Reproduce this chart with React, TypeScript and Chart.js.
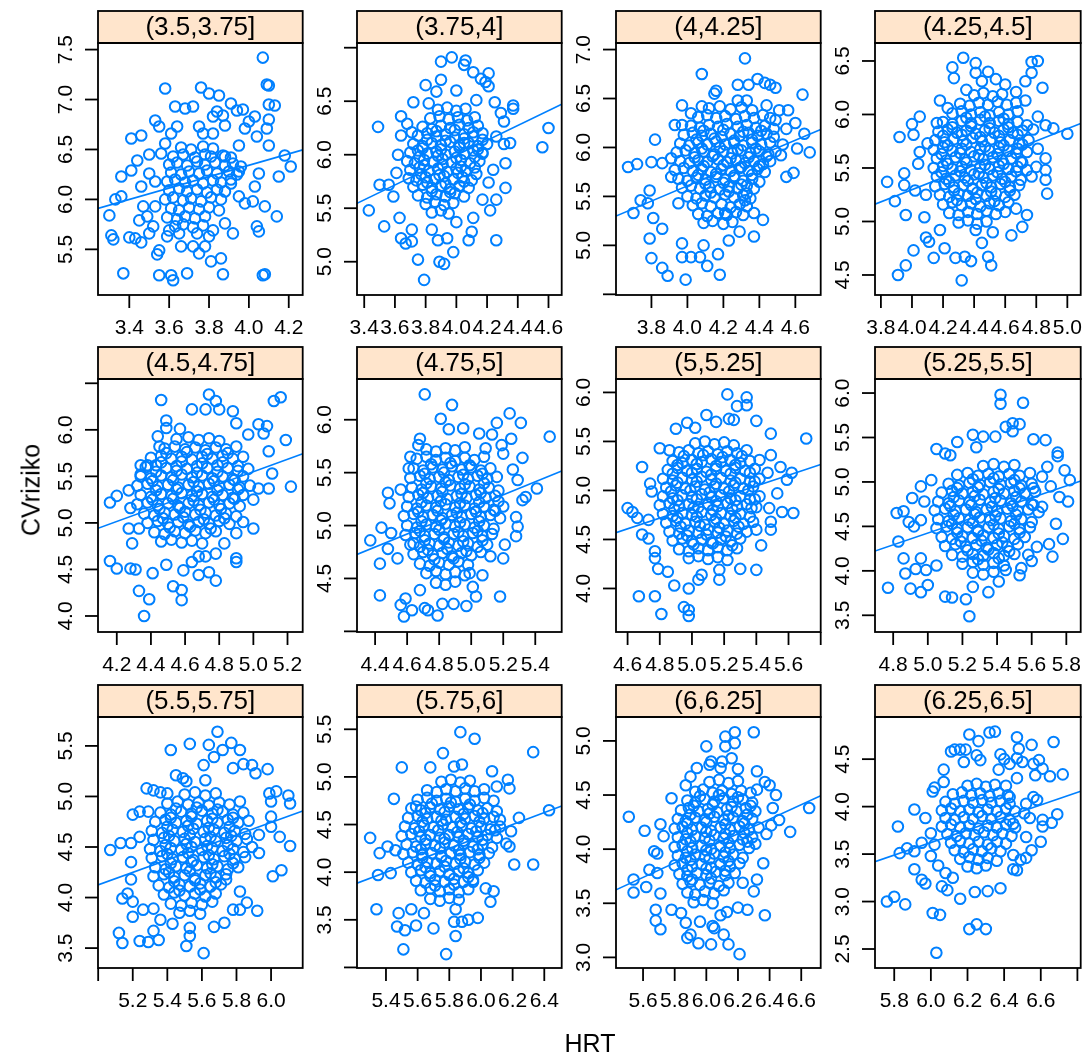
import React, { useEffect, useRef } from 'react';
import { Chart, registerables } from 'chart.js';

Chart.register(...registerables);

// strip labels (HRT shingles) and the panel order, left to right, top to bottom
const stripLabels = ['(3.5,3.75]', '(3.75,4]', '(4,4.25]', '(4.25,4.5]', '(4.5,4.75]', '(4.75,5]', '(5,5.25]', '(5.25,5.5]', '(5.5,5.75]', '(5.75,6]', '(6,6.25]', '(6.25,6.5]'];

// axis limits per panel (relation = "free")
const hrtLimits: [number, number][] = [[3.243, 4.27], [3.353, 4.686], [3.603, 4.741], [3.762, 5.086], [4.09, 5.289], [4.287, 5.565], [4.528, 5.8], [4.695, 5.883], [4.999, 6.183], [5.217, 6.51], [5.429, 6.723], [5.695, 6.818]];
const cvLimits: [number, number][] = [[5.043, 7.566], [4.689, 7.044], [4.493, 7.067], [4.313, 6.668], [3.828, 6.546], [3.994, 6.385], [3.556, 6.137], [3.312, 6.158], [3.303, 5.786], [2.994, 5.629], [2.902, 5.221], [2.3, 4.944]];

const hrtTicks = [[3.4, 3.6, 3.8, 4.0, 4.2], [3.4, 3.6, 3.8, 4.0, 4.2, 4.4, 4.6], [3.8, 4.0, 4.2, 4.4, 4.6], [3.8, 4.0, 4.2, 4.4, 4.6, 4.8, 5.0], [4.2, 4.4, 4.6, 4.8, 5.0, 5.2], [4.4, 4.6, 4.8, 5.0, 5.2, 5.4], [4.6, 4.8, 5.0, 5.2, 5.4, 5.6, 5.8], [4.8, 5.0, 5.2, 5.4, 5.6, 5.8], [5.0, 5.2, 5.4, 5.6, 5.8, 6.0], [5.4, 5.6, 5.8, 6.0, 6.2, 6.4], [5.6, 5.8, 6.0, 6.2, 6.4, 6.6], [5.8, 6.0, 6.2, 6.4, 6.6, 6.8]];
const hrtBare = [[], [], [], [], [], [], [5.8], [], [5.0], [], [], [6.8]];
const cvTicks = [[5.5, 6.0, 6.5, 7.0, 7.5], [5.0, 5.5, 6.0, 6.5, 7.0], [4.5, 5.0, 5.5, 6.0, 6.5, 7.0], [4.5, 5.0, 5.5, 6.0, 6.5], [4.0, 4.5, 5.0, 5.5, 6.0, 6.5], [4.0, 4.5, 5.0, 5.5, 6.0], [4.0, 4.5, 5.0, 5.5, 6.0], [3.5, 4.0, 4.5, 5.0, 5.5, 6.0], [3.5, 4.0, 4.5, 5.0, 5.5], [3.0, 3.5, 4.0, 4.5, 5.0, 5.5], [3.0, 3.5, 4.0, 4.5, 5.0], [2.5, 3.0, 3.5, 4.0, 4.5]];
const cvBare = [[], [7.0], [4.5], [], [6.5], [4.0], [], [], [], [3.0], [], []];

// fitted line (lmline) read at the left and right panel limits
const fitLeft = [5.91, 5.545, 5.299, 5.162, 4.942, 4.727, 4.569, 4.222, 4.125, 3.884, 3.624, 3.42];
const fitRight = [6.496, 6.472, 6.184, 5.915, 5.742, 5.516, 5.264, 5.011, 4.855, 4.694, 4.493, 4.163];

// points [HRT, CVriziko]
const cloud1: [number, number][] = [
  [4.07,7.42],[3.58,7.11],[3.76,7.12],[3.80,7.06],[3.85,7.04],[4.09,7.15],[4.10,7.14],[3.63,6.93],[3.68,6.91],[3.72,6.93],[3.91,6.96],[3.94,6.89],[3.97,6.90],[4.10,6.95],[4.13,6.94],[3.53,6.79],[3.55,6.73],[3.41,6.61],[3.46,6.64],[3.36,6.23],[3.41,6.29],[3.44,6.39],[3.33,6.00],[3.36,6.03],[3.30,5.84],[3.31,5.64],[3.32,5.60],[3.40,5.62],[3.43,5.61],[3.46,5.57],[3.37,5.26],[3.55,5.24],[3.54,5.45],[3.55,5.49],[3.61,5.24],[3.62,5.19],[3.69,5.26],[3.66,5.53],[3.72,5.53],[3.75,5.46],[3.78,5.53],[3.81,5.38],[3.86,5.41],[3.87,5.25],[3.88,5.76],[3.92,5.66],[4.04,5.73],[4.05,5.68],[4.07,5.24],[4.08,5.25],[4.14,5.83],[4.08,5.93],[4.15,6.23],[4.21,6.33],[4.18,6.44],[4.10,6.54],[4.09,6.71],[4.10,6.80],[4.03,6.83],[4.00,6.78],[3.98,6.71],[3.95,6.54],[4.04,6.63],[4.05,6.26],[4.03,6.13],[4.02,5.98],[3.98,5.96],[3.95,6.03],[3.91,6.16],[3.95,6.28],[3.88,6.43],[3.82,6.83],[3.84,6.88],[3.87,6.84],[3.88,6.74],[3.82,6.66],[3.77,6.66],[3.75,6.73],[3.64,6.73],[3.61,6.66],[3.58,6.56],[3.56,6.46],[3.50,6.45],[3.50,6.26],[3.53,6.18],[3.46,6.13],[3.47,5.93],[3.49,5.83],[3.45,5.79],[3.53,5.93],[3.52,5.73],[3.50,5.66],[3.59,5.63],[3.60,5.69],[3.65,5.66],[3.74,5.66],[3.80,5.63],[3.82,5.69],
  [3.66,6.52],[3.71,6.50],[3.77,6.53],[3.82,6.51],[3.62,6.43],[3.67,6.45],[3.73,6.42],[3.78,6.45],[3.81,6.43],[3.87,6.44],[3.91,6.42],[3.60,6.35],[3.64,6.37],[3.69,6.34],[3.74,6.38],[3.78,6.35],[3.83,6.37],[3.88,6.34],[3.92,6.36],[3.96,6.33],[3.61,6.27],[3.66,6.25],[3.70,6.28],[3.75,6.26],[3.79,6.29],[3.84,6.26],[3.90,6.28],[3.94,6.25],[3.59,6.18],[3.63,6.20],[3.68,6.17],[3.72,6.19],[3.77,6.16],[3.82,6.19],[3.86,6.17],[3.91,6.20],[3.60,6.09],[3.65,6.11],[3.69,6.08],[3.74,6.10],[3.79,6.07],[3.84,6.10],[3.88,6.08],[3.58,6.00],[3.62,6.02],[3.67,5.99],[3.71,6.01],[3.76,5.98],[3.81,6.02],[3.86,6.00],[3.61,5.91],[3.65,5.89],[3.70,5.92],[3.75,5.90],[3.80,5.92],[3.85,5.89],[3.59,5.82],[3.64,5.80],[3.68,5.83],[3.73,5.81],[3.78,5.83],[3.63,5.73],[3.67,5.75],[3.72,5.72],[3.77,5.74],
];
const cloud2: [number, number][] = [
  [3.97,6.91],[3.90,6.87],[4.06,6.88],[4.05,6.84],[4.11,6.77],[4.16,6.71],[4.21,6.76],[4.19,6.68],[4.21,6.64],[3.80,6.65],[3.90,6.70],[3.87,6.59],[4.00,6.60],[3.72,6.49],[3.82,6.48],[3.49,6.26],[3.64,6.36],[3.68,6.29],[3.71,6.21],[3.64,6.18],[3.62,6.00],[3.61,5.83],[3.50,5.72],[3.56,5.72],[3.59,5.61],[3.43,5.48],[3.53,5.33],[3.63,5.41],[3.64,5.22],[3.67,5.17],[3.71,5.19],[3.71,5.30],[3.75,5.02],[3.79,4.83],[3.89,5.00],[3.92,4.98],[3.98,5.09],[3.94,5.22],[3.88,5.20],[3.84,5.30],[4.00,5.37],[4.08,5.20],[4.10,5.28],[4.11,5.41],[4.17,5.58],[4.22,5.48],[4.26,5.58],[4.26,5.20],[4.32,5.69],[4.32,5.92],[4.31,6.10],[4.35,6.11],[4.31,6.31],[4.29,6.39],[4.37,6.43],[4.37,6.46],[4.56,6.07],[4.60,6.25],[4.24,5.86],[4.21,5.74],[4.17,6.01],[4.26,6.17],[4.25,6.49],[4.13,6.51],[4.05,6.11],
  [3.88,6.42],[3.94,6.44],[4.00,6.41],[4.06,6.43],[3.83,6.34],[3.89,6.36],[3.95,6.33],[4.01,6.35],[4.07,6.32],[4.12,6.35],[3.78,6.26],[3.84,6.24],[3.90,6.27],[3.96,6.25],[4.02,6.28],[4.08,6.25],[4.14,6.27],[3.75,6.18],[3.81,6.20],[3.87,6.17],[3.93,6.19],[3.99,6.16],[4.05,6.19],[4.11,6.17],[4.17,6.20],[3.72,6.10],[3.78,6.08],[3.84,6.11],[3.90,6.09],[3.96,6.12],[4.02,6.09],[4.08,6.11],[4.14,6.08],[4.20,6.10],[3.70,6.02],[3.75,6.04],[3.81,6.01],[3.87,6.03],[3.93,6.00],[3.99,6.03],[4.05,6.01],[4.11,6.04],[4.17,6.02],[3.68,5.94],[3.73,5.92],[3.79,5.95],[3.85,5.93],[3.91,5.96],[3.97,5.93],[4.03,5.95],[4.09,5.92],[4.15,5.94],[3.70,5.86],[3.76,5.88],[3.82,5.85],[3.88,5.87],[3.94,5.84],[4.00,5.87],[4.06,5.85],[4.12,5.88],[3.69,5.78],[3.74,5.76],[3.80,5.79],[3.86,5.77],[3.92,5.80],[3.98,5.77],[4.04,5.79],[4.10,5.76],[3.72,5.70],[3.78,5.72],[3.84,5.69],[3.90,5.71],[3.96,5.68],[4.02,5.71],[4.08,5.69],[3.75,5.62],[3.81,5.60],[3.87,5.63],[3.93,5.61],[3.99,5.64],[4.05,5.61],[3.80,5.54],[3.86,5.56],[3.92,5.53],[3.98,5.55],[3.84,5.46],[3.90,5.48],[3.95,5.45],
  [3.87,6.22],[3.99,6.23],[4.11,6.21],[3.81,6.14],[3.93,6.13],[4.05,6.15],[4.17,6.14],[3.78,6.06],[3.90,6.05],[4.02,6.07],[4.14,6.05],[3.76,5.98],[3.88,5.99],[4.00,5.97],[4.12,5.98],[3.79,5.90],[3.91,5.91],[4.03,5.89],[3.77,5.82],[3.89,5.81],[4.01,5.83],[4.13,5.82],[3.81,5.74],[3.93,5.73],[4.05,5.75],[3.84,5.66],[3.96,5.65],
];
const cloud3: [number, number][] = [
  [4.32,6.91],[4.08,6.75],[4.28,6.64],[4.34,6.64],[4.39,6.70],[4.43,6.66],[4.46,6.64],[4.49,6.61],[4.16,6.58],[4.64,6.54],[3.97,6.43],[3.93,6.23],[3.97,6.23],[3.82,6.08],[3.67,5.80],[3.72,5.83],[3.80,5.85],[3.86,5.84],[3.74,5.46],[3.70,5.33],[3.79,5.56],[3.78,5.43],[3.81,5.28],[3.86,5.17],[3.79,5.07],[3.80,4.87],[3.86,4.77],[3.89,4.69],[3.99,4.65],[3.97,4.88],[4.02,4.88],[4.07,4.88],[4.11,4.79],[4.17,4.91],[4.18,4.70],[4.23,5.05],[4.29,5.14],[4.37,5.09],[4.42,5.26],[4.37,5.33],[4.55,5.70],[4.59,5.74],[4.52,5.92],[4.53,6.03],[4.61,5.99],[4.68,5.95],[4.65,6.14],[4.60,6.25],[4.56,6.38],[4.51,6.38],[4.44,6.43],[4.49,6.28],[4.55,6.19],[4.33,6.48],[4.28,6.48],[4.15,6.55],[4.08,6.42],[4.02,6.35],[3.91,5.89],[3.91,5.70],[3.95,5.43],[3.97,5.02],[4.09,5.00],[4.21,5.33],[4.32,5.46],
  [4.12,6.40],[4.18,6.42],[4.24,6.39],[4.30,6.41],[4.36,6.38],[4.06,6.31],[4.11,6.33],[4.16,6.30],[4.21,6.32],[4.27,6.29],[4.32,6.32],[4.37,6.30],[4.42,6.33],[4.46,6.30],[4.02,6.22],[4.07,6.20],[4.12,6.23],[4.17,6.21],[4.22,6.24],[4.28,6.21],[4.33,6.23],[4.38,6.20],[4.43,6.22],[4.48,6.19],[3.98,6.13],[4.03,6.15],[4.08,6.12],[4.13,6.14],[4.19,6.11],[4.24,6.14],[4.29,6.12],[4.34,6.15],[4.39,6.12],[4.44,6.14],[4.48,6.11],[3.96,6.04],[4.01,6.02],[4.06,6.05],[4.11,6.03],[4.16,6.06],[4.21,6.03],[4.26,6.05],[4.31,6.02],[4.36,6.05],[4.41,6.03],[4.46,6.05],[3.94,5.95],[3.99,5.97],[4.04,5.94],[4.09,5.96],[4.15,5.93],[4.20,5.96],[4.25,5.94],[4.30,5.97],[4.35,5.94],[4.40,5.96],[4.45,5.93],[4.49,5.96],[3.96,5.86],[4.01,5.84],[4.06,5.87],[4.11,5.85],[4.17,5.88],[4.22,5.85],[4.27,5.87],[4.32,5.84],[4.37,5.86],[4.42,5.83],[4.46,5.86],[3.93,5.77],[3.98,5.79],[4.03,5.76],[4.08,5.78],[4.13,5.75],[4.19,5.78],[4.24,5.76],[4.29,5.79],[4.34,5.76],[4.39,5.78],[4.43,5.75],[3.95,5.68],[4.00,5.66],[4.05,5.69],[4.10,5.67],[4.16,5.70],[4.21,5.67],[4.26,5.69],[4.31,5.66],[4.36,5.68],[4.40,5.65],[3.97,5.59],[4.02,5.61],[4.07,5.58],[4.12,5.60],[4.18,5.57],[4.23,5.60],[4.28,5.58],[4.33,5.61],[4.37,5.58],[4.00,5.50],[4.05,5.48],[4.10,5.51],[4.15,5.49],[4.21,5.52],[4.26,5.49],[4.31,5.51],[4.35,5.48],[4.03,5.41],[4.08,5.43],[4.13,5.40],[4.19,5.42],[4.24,5.39],[4.29,5.42],[4.33,5.40],[4.06,5.32],[4.11,5.30],[4.17,5.33],[4.22,5.31],[4.27,5.34],[4.31,5.31],[4.09,5.23],[4.14,5.25],[4.20,5.22],[4.25,5.24],
  [4.09,6.17],[4.20,6.18],[4.31,6.16],[4.41,6.17],[4.05,6.08],[4.15,6.09],[4.26,6.07],[4.36,6.08],[4.08,5.99],[4.18,6.00],[4.28,5.98],[4.38,5.99],[4.04,5.90],[4.14,5.91],[4.24,5.89],[4.34,5.90],[4.44,5.91],[4.09,5.81],[4.20,5.82],[4.30,5.80],[4.40,5.81],[4.06,5.72],[4.16,5.73],[4.26,5.71],[4.36,5.72],[4.10,5.63],[4.20,5.64],[4.30,5.62],[4.13,5.54],[4.23,5.55],[4.33,5.53],
];
const cloud4: [number, number][] = [
  [4.33,6.53],[4.41,6.48],[4.26,6.44],[4.27,6.34],[4.49,6.40],[4.41,6.39],[4.54,6.33],[4.77,6.49],[4.81,6.50],[4.77,6.39],[4.73,6.31],[4.84,6.25],[4.35,6.23],[4.18,6.13],[4.23,6.06],[4.05,5.98],[4.00,5.91],[3.92,5.79],[4.01,5.81],[4.05,5.65],[4.04,5.54],[3.95,5.45],[3.95,5.34],[3.84,5.37],[3.89,5.19],[3.96,5.06],[4.02,5.29],[4.09,5.25],[4.09,4.85],[4.11,4.81],[4.14,4.66],[4.01,4.73],[3.96,4.59],[3.91,4.50],[4.21,4.75],[4.28,4.66],[4.32,4.45],[4.34,4.67],[4.38,4.63],[4.45,4.80],[4.49,4.67],[4.51,4.59],[4.52,4.90],[4.64,4.87],[4.71,4.95],[4.74,5.06],[4.77,5.42],[4.80,5.51],[4.87,5.26],[4.86,5.39],[4.86,5.48],[4.86,5.59],[4.81,5.68],[4.78,5.86],[4.81,5.98],[4.86,5.90],[4.91,5.87],[5.00,5.82],[4.73,6.13],[4.67,6.21],[4.60,6.28],[4.45,6.31],[4.16,5.92],[4.10,5.73],[4.08,5.04],[4.18,4.92],[4.41,4.92],[4.67,5.12],
  [4.40,6.18],[4.46,6.20],[4.52,6.17],[4.58,6.19],[4.31,6.10],[4.37,6.08],[4.43,6.11],[4.49,6.09],[4.55,6.12],[4.61,6.09],[4.67,6.11],[4.26,6.01],[4.32,6.03],[4.38,6.00],[4.44,6.02],[4.50,5.99],[4.56,6.02],[4.62,6.00],[4.68,6.03],[4.20,5.93],[4.26,5.91],[4.32,5.94],[4.38,5.92],[4.44,5.95],[4.50,5.92],[4.56,5.94],[4.62,5.91],[4.68,5.93],[4.74,5.90],[4.17,5.84],[4.23,5.86],[4.29,5.83],[4.35,5.85],[4.41,5.82],[4.47,5.85],[4.53,5.83],[4.59,5.86],[4.65,5.83],[4.71,5.85],[4.15,5.76],[4.21,5.74],[4.27,5.77],[4.33,5.75],[4.39,5.78],[4.45,5.75],[4.51,5.77],[4.57,5.74],[4.63,5.76],[4.69,5.73],[4.75,5.76],[4.14,5.67],[4.20,5.69],[4.26,5.66],[4.32,5.68],[4.38,5.65],[4.44,5.68],[4.50,5.66],[4.56,5.69],[4.62,5.66],[4.68,5.68],[4.74,5.65],[4.16,5.59],[4.22,5.57],[4.28,5.60],[4.34,5.58],[4.40,5.61],[4.46,5.58],[4.52,5.60],[4.58,5.57],[4.64,5.59],[4.70,5.56],[4.14,5.50],[4.20,5.52],[4.26,5.49],[4.32,5.51],[4.38,5.48],[4.44,5.51],[4.50,5.49],[4.56,5.52],[4.62,5.49],[4.68,5.51],[4.74,5.48],[4.16,5.42],[4.22,5.40],[4.28,5.43],[4.34,5.41],[4.40,5.44],[4.46,5.41],[4.52,5.43],[4.58,5.40],[4.64,5.42],[4.70,5.39],[4.15,5.33],[4.21,5.35],[4.27,5.32],[4.33,5.34],[4.39,5.31],[4.45,5.34],[4.51,5.32],[4.57,5.35],[4.63,5.32],[4.69,5.34],[4.18,5.25],[4.24,5.23],[4.30,5.26],[4.36,5.24],[4.42,5.27],[4.48,5.24],[4.54,5.26],[4.60,5.23],[4.66,5.25],[4.20,5.16],[4.26,5.18],[4.32,5.15],[4.38,5.17],[4.44,5.14],[4.50,5.17],[4.56,5.15],[4.62,5.18],[4.24,5.08],[4.30,5.06],[4.36,5.09],[4.42,5.07],[4.48,5.10],[4.54,5.07],[4.60,5.09],[4.30,4.99],[4.36,5.01],[4.42,4.98],[4.48,5.00],
  [4.35,5.97],[4.47,5.98],[4.59,5.96],[4.26,5.88],[4.38,5.89],[4.50,5.87],[4.62,5.88],[4.20,5.80],[4.32,5.81],[4.44,5.79],[4.56,5.80],[4.68,5.81],[4.23,5.71],[4.35,5.72],[4.47,5.70],[4.59,5.71],[4.71,5.72],[4.19,5.63],[4.31,5.64],[4.43,5.62],[4.55,5.63],[4.67,5.64],[4.23,5.54],[4.35,5.55],[4.47,5.53],[4.59,5.54],[4.71,5.55],[4.19,5.46],[4.31,5.47],[4.43,5.45],[4.55,5.46],[4.67,5.47],[4.24,5.37],[4.36,5.38],[4.48,5.36],[4.60,5.37],[4.27,5.29],[4.39,5.30],[4.51,5.28],[4.63,5.29],[4.29,5.20],[4.41,5.21],[4.53,5.19],
];
const cloud5: [number, number][] = [
  [4.74,6.38],[4.78,6.31],[4.46,6.32],[5.12,6.31],[5.16,6.35],[4.64,6.22],[4.72,6.22],[4.80,6.22],[4.88,6.20],[4.49,6.10],[4.90,6.07],[5.03,6.06],[5.08,6.04],[4.97,5.95],[5.06,5.96],[5.19,5.89],[5.09,5.77],[5.11,5.53],[5.22,5.39],[5.03,5.37],[5.09,5.37],[5.00,5.25],[5.00,4.94],[4.94,5.01],[4.90,4.89],[4.90,4.62],[4.90,4.58],[4.78,4.67],[4.78,4.38],[4.74,4.47],[4.68,4.44],[4.68,4.64],[4.64,4.58],[4.59,4.49],[4.58,4.28],[4.58,4.17],[4.53,4.32],[4.49,4.55],[4.41,4.46],[4.39,4.18],[4.33,4.27],[4.36,4.00],[4.31,4.50],[4.28,4.51],[4.20,4.51],[4.16,4.59],[4.29,4.78],[4.27,4.94],[4.33,4.94],[4.28,5.16],[4.16,5.22],[4.20,5.29],[4.27,5.35],[4.34,5.62],[4.38,5.62],[4.34,5.52],[4.44,5.93],[4.49,6.02],[4.57,6.01],[4.45,5.82],[4.72,4.64],[4.83,4.78],
  [4.55,5.90],[4.62,5.92],[4.68,5.89],[4.74,5.91],[4.80,5.88],[4.48,5.80],[4.54,5.82],[4.60,5.79],[4.66,5.81],[4.72,5.78],[4.78,5.81],[4.84,5.79],[4.90,5.82],[4.40,5.70],[4.46,5.72],[4.52,5.69],[4.58,5.71],[4.64,5.68],[4.70,5.71],[4.76,5.69],[4.82,5.72],[4.88,5.69],[4.94,5.71],[4.37,5.60],[4.43,5.62],[4.49,5.59],[4.55,5.61],[4.61,5.58],[4.67,5.61],[4.73,5.59],[4.79,5.62],[4.85,5.59],[4.91,5.61],[4.97,5.58],[4.34,5.50],[4.40,5.48],[4.46,5.51],[4.52,5.49],[4.58,5.52],[4.64,5.49],[4.70,5.51],[4.76,5.48],[4.82,5.50],[4.88,5.47],[4.94,5.50],[4.32,5.40],[4.38,5.42],[4.44,5.39],[4.50,5.41],[4.56,5.38],[4.62,5.41],[4.68,5.39],[4.74,5.42],[4.80,5.39],[4.86,5.41],[4.92,5.38],[4.98,5.40],[4.34,5.30],[4.40,5.28],[4.46,5.31],[4.52,5.29],[4.58,5.32],[4.64,5.29],[4.70,5.31],[4.76,5.28],[4.82,5.30],[4.88,5.27],[4.94,5.30],[4.32,5.20],[4.38,5.22],[4.44,5.19],[4.50,5.21],[4.56,5.18],[4.62,5.21],[4.68,5.19],[4.74,5.22],[4.80,5.19],[4.86,5.21],[4.92,5.18],[4.36,5.10],[4.42,5.08],[4.48,5.11],[4.54,5.09],[4.60,5.12],[4.66,5.09],[4.72,5.11],[4.78,5.08],[4.84,5.10],[4.90,5.07],[4.38,5.00],[4.44,5.02],[4.50,4.99],[4.56,5.01],[4.62,4.98],[4.68,5.01],[4.74,4.99],[4.80,5.02],[4.86,4.99],[4.42,4.90],[4.48,4.88],[4.54,4.91],[4.60,4.89],[4.66,4.92],[4.72,4.89],[4.78,4.91],[4.46,4.80],[4.52,4.82],[4.58,4.79],[4.64,4.81],[4.70,4.78],
  [4.49,5.75],[4.61,5.76],[4.73,5.74],[4.85,5.75],[4.46,5.65],[4.58,5.66],[4.70,5.64],[4.82,5.65],[4.43,5.55],[4.55,5.56],[4.67,5.54],[4.79,5.55],[4.91,5.56],[4.41,5.45],[4.53,5.46],[4.65,5.44],[4.77,5.45],[4.89,5.46],[4.43,5.35],[4.55,5.36],[4.67,5.34],[4.79,5.35],[4.91,5.36],[4.41,5.25],[4.53,5.26],[4.65,5.24],[4.77,5.25],[4.89,5.26],[4.45,5.15],[4.57,5.16],[4.69,5.14],[4.81,5.15],[4.47,5.05],[4.59,5.06],[4.71,5.04],[4.83,5.05],[4.51,4.95],[4.63,4.96],[4.75,4.94],
];
const cloud6: [number, number][] = [
  [4.71,6.24],[4.88,6.14],[4.81,6.01],[5.24,6.06],[5.31,5.97],[5.16,5.97],[5.49,5.84],[4.68,5.82],[4.67,5.76],[4.86,5.91],[4.95,5.92],[5.05,5.87],[5.13,5.86],[5.25,5.82],[5.19,5.76],[5.32,5.64],[4.62,5.65],[4.61,5.54],[4.48,5.31],[4.49,5.21],[4.56,5.34],[4.44,4.98],[4.37,4.86],[4.50,4.93],[4.48,4.78],[4.54,4.69],[4.43,4.64],[4.43,4.34],[4.56,4.25],[4.58,4.14],[4.63,4.20],[4.59,4.31],[4.71,4.22],[4.73,4.20],[4.79,4.15],[4.82,4.26],[4.89,4.26],[4.97,4.24],[5.03,4.33],[5.01,4.42],[4.99,4.55],[5.07,4.53],[5.20,4.69],[5.18,4.33],[5.21,4.82],[5.28,4.90],[5.29,4.99],[5.28,5.08],[5.34,5.27],[5.41,5.35],[5.32,5.24],[5.29,5.43],[5.26,5.53],[5.20,5.68],[5.09,5.73],[4.64,4.83],[4.68,4.39],[5.12,4.71],
  [4.72,5.72],[4.78,5.70],[4.84,5.73],[4.90,5.71],[4.96,5.74],[4.66,5.63],[4.72,5.65],[4.78,5.62],[4.84,5.64],[4.90,5.61],[4.96,5.64],[5.02,5.62],[5.08,5.65],[4.64,5.54],[4.70,5.52],[4.76,5.55],[4.82,5.53],[4.88,5.56],[4.94,5.53],[5.00,5.55],[5.06,5.52],[5.12,5.54],[4.62,5.45],[4.68,5.47],[4.74,5.44],[4.80,5.46],[4.86,5.43],[4.92,5.46],[4.98,5.44],[5.04,5.47],[5.10,5.44],[5.16,5.46],[4.63,5.36],[4.69,5.34],[4.75,5.37],[4.81,5.35],[4.87,5.38],[4.93,5.35],[4.99,5.37],[5.05,5.34],[5.11,5.36],[5.17,5.33],[4.61,5.27],[4.67,5.29],[4.73,5.26],[4.79,5.28],[4.85,5.25],[4.91,5.28],[4.97,5.26],[5.03,5.29],[5.09,5.26],[5.15,5.28],[4.60,5.18],[4.66,5.16],[4.72,5.19],[4.78,5.17],[4.84,5.20],[4.90,5.17],[4.96,5.19],[5.02,5.16],[5.08,5.18],[5.14,5.15],[5.20,5.18],[4.58,5.09],[4.64,5.11],[4.70,5.08],[4.76,5.10],[4.82,5.07],[4.88,5.10],[4.94,5.08],[5.00,5.11],[5.06,5.08],[5.12,5.10],[5.18,5.07],[4.60,5.00],[4.66,4.98],[4.72,5.01],[4.78,4.99],[4.84,5.02],[4.90,4.99],[4.96,5.01],[5.02,4.98],[5.08,5.00],[5.14,4.97],[4.59,4.91],[4.65,4.93],[4.71,4.90],[4.77,4.92],[4.83,4.89],[4.89,4.92],[4.95,4.90],[5.01,4.93],[5.07,4.90],[5.13,4.92],[4.62,4.82],[4.68,4.80],[4.74,4.83],[4.80,4.81],[4.86,4.84],[4.92,4.81],[4.98,4.83],[5.04,4.80],[5.10,4.82],[4.64,4.73],[4.70,4.75],[4.76,4.72],[4.82,4.74],[4.88,4.71],[4.94,4.74],[5.00,4.72],[5.06,4.75],[4.68,4.64],[4.74,4.62],[4.80,4.65],[4.86,4.63],[4.92,4.66],[4.98,4.63],[4.72,4.55],[4.78,4.57],[4.84,4.54],[4.90,4.56],[4.96,4.53],[4.78,4.46],[4.84,4.44],[4.90,4.47],
  [4.75,5.58],[4.87,5.59],[4.99,5.57],[4.71,5.49],[4.83,5.50],[4.95,5.48],[5.07,5.49],[4.72,5.40],[4.84,5.41],[4.96,5.39],[5.08,5.40],[4.70,5.31],[4.82,5.32],[4.94,5.30],[5.06,5.31],[4.69,5.22],[4.81,5.23],[4.93,5.21],[5.05,5.22],[5.17,5.23],[4.67,5.13],[4.79,5.14],[4.91,5.12],[5.03,5.13],[5.15,5.14],[4.69,5.04],[4.81,5.05],[4.93,5.03],[5.05,5.04],[4.68,4.95],[4.80,4.96],[4.92,4.94],[5.04,4.95],[4.71,4.86],[4.83,4.87],[4.95,4.85],[5.07,4.86],[4.73,4.77],[4.85,4.78],[4.97,4.76],[4.77,4.68],[4.89,4.69],
];
const cloud7: [number, number][] = [
  [5.22,5.98],[5.34,5.95],[5.34,5.87],[5.28,5.86],[5.09,5.77],[5.15,5.70],[5.23,5.73],[5.26,5.72],[5.40,5.71],[4.97,5.69],[4.90,5.63],[5.02,5.64],[5.49,5.58],[5.71,5.53],[4.86,5.41],[4.80,5.43],[4.69,5.24],[4.74,5.07],[4.75,4.99],[4.60,4.82],[4.63,4.78],[4.66,4.72],[4.73,4.70],[4.69,4.55],[4.73,4.51],[4.77,4.38],[4.77,4.31],[4.79,4.20],[4.85,4.17],[4.89,4.03],[4.98,4.00],[4.67,3.92],[4.77,3.92],[4.81,3.74],[4.95,3.81],[4.98,3.78],[4.98,3.72],[5.04,4.09],[5.06,4.14],[5.17,4.09],[5.17,4.19],[5.30,4.20],[5.40,4.19],[5.43,4.44],[5.40,4.60],[5.49,4.60],[5.49,4.68],[5.48,4.82],[5.56,4.78],[5.63,4.77],[5.53,4.97],[5.59,5.11],[5.62,5.18],[5.55,5.24],[5.49,5.36],[5.47,5.18],[5.42,5.31],
  [5.02,5.48],[5.08,5.50],[5.14,5.47],[5.20,5.49],[5.26,5.46],[4.92,5.39],[4.98,5.41],[5.04,5.38],[5.10,5.40],[5.16,5.37],[5.22,5.40],[5.28,5.38],[5.34,5.41],[4.88,5.30],[4.94,5.28],[5.00,5.31],[5.06,5.29],[5.12,5.32],[5.18,5.29],[5.24,5.31],[5.30,5.28],[5.36,5.30],[4.85,5.21],[4.91,5.23],[4.97,5.20],[5.03,5.22],[5.09,5.19],[5.15,5.22],[5.21,5.20],[5.27,5.23],[5.33,5.20],[5.39,5.22],[4.82,5.12],[4.88,5.10],[4.94,5.13],[5.00,5.11],[5.06,5.14],[5.12,5.11],[5.18,5.13],[5.24,5.10],[5.30,5.12],[5.36,5.09],[5.42,5.12],[4.84,5.03],[4.90,5.05],[4.96,5.02],[5.02,5.04],[5.08,5.01],[5.14,5.04],[5.20,5.02],[5.26,5.05],[5.32,5.02],[5.38,5.04],[4.82,4.94],[4.88,4.92],[4.94,4.95],[5.00,4.93],[5.06,4.96],[5.12,4.93],[5.18,4.95],[5.24,4.92],[5.30,4.94],[5.36,4.91],[5.42,4.94],[4.80,4.85],[4.86,4.87],[4.92,4.84],[4.98,4.86],[5.04,4.83],[5.10,4.86],[5.16,4.84],[5.22,4.87],[5.28,4.84],[5.34,4.86],[5.40,4.83],[4.82,4.76],[4.88,4.74],[4.94,4.77],[5.00,4.75],[5.06,4.78],[5.12,4.75],[5.18,4.77],[5.24,4.74],[5.30,4.76],[5.36,4.73],[4.84,4.67],[4.90,4.69],[4.96,4.66],[5.02,4.68],[5.08,4.65],[5.14,4.68],[5.20,4.66],[5.26,4.69],[5.32,4.66],[5.38,4.68],[4.86,4.58],[4.92,4.56],[4.98,4.59],[5.04,4.57],[5.10,4.60],[5.16,4.57],[5.22,4.59],[5.28,4.56],[5.34,4.58],[4.88,4.49],[4.94,4.51],[5.00,4.48],[5.06,4.50],[5.12,4.47],[5.18,4.50],[5.24,4.48],[5.30,4.51],[4.92,4.40],[4.98,4.38],[5.04,4.41],[5.10,4.39],[5.16,4.42],[5.22,4.39],[5.28,4.41],[4.98,4.31],[5.04,4.33],[5.10,4.30],[5.16,4.32],[5.22,4.29],
  [4.95,5.35],[5.07,5.36],[5.19,5.34],[5.31,5.35],[4.91,5.26],[5.03,5.27],[5.15,5.25],[5.27,5.26],[4.88,5.17],[5.00,5.18],[5.12,5.16],[5.24,5.17],[5.36,5.18],[4.91,5.08],[5.03,5.09],[5.15,5.07],[5.27,5.08],[5.39,5.09],[4.87,4.99],[4.99,5.00],[5.11,4.98],[5.23,4.99],[5.35,5.00],[4.91,4.90],[5.03,4.91],[5.15,4.89],[5.27,4.90],[5.39,4.91],[4.89,4.81],[5.01,4.82],[5.13,4.80],[5.25,4.81],[5.37,4.82],[4.91,4.72],[5.03,4.73],[5.15,4.71],[5.27,4.72],[4.93,4.63],[5.05,4.64],[5.17,4.62],[5.29,4.63],[4.97,4.54],[5.09,4.55],[5.21,4.53],[5.01,4.45],[5.13,4.46],[5.25,4.44],
];
const cloud8: [number, number][] = [
  [5.42,5.98],[5.42,5.88],[5.55,5.89],[5.49,5.66],[5.53,5.65],[5.45,5.62],[5.49,5.57],[5.26,5.53],[5.32,5.51],[5.39,5.51],[5.17,5.45],[5.05,5.37],[5.10,5.32],[5.13,5.30],[5.28,5.39],[5.68,5.47],[5.61,5.48],[5.75,5.33],[5.75,5.29],[5.79,5.13],[5.82,5.02],[5.81,4.78],[5.69,5.17],[5.02,5.02],[4.96,4.95],[4.91,4.82],[4.98,4.78],[4.82,4.65],[4.86,4.67],[4.89,4.55],[4.92,4.50],[4.96,4.57],[4.83,4.33],[4.86,4.14],[4.87,3.97],[4.93,4.02],[4.96,4.14],[4.90,3.80],[4.96,3.76],[4.77,3.81],[5.00,3.84],[5.10,3.71],[5.14,3.70],[5.22,3.68],[5.24,3.49],[5.35,3.76],[5.41,3.88],[5.45,4.01],[5.53,3.95],[5.54,4.03],[5.60,4.11],[5.63,4.27],[5.58,4.18],[5.72,4.16],[5.78,4.36],[5.70,4.30],[5.74,4.53],[5.66,4.72],[5.71,4.95],[5.76,4.83],[5.66,5.06],[5.61,4.93],[5.05,4.06],[4.99,4.01],[5.26,3.82],
  [5.32,5.18],[5.38,5.20],[5.44,5.17],[5.50,5.19],[5.17,5.08],[5.23,5.10],[5.29,5.07],[5.35,5.09],[5.41,5.06],[5.47,5.09],[5.53,5.07],[5.59,5.10],[5.12,4.98],[5.18,4.96],[5.24,4.99],[5.30,4.97],[5.36,5.00],[5.42,4.97],[5.48,4.99],[5.54,4.96],[5.60,4.98],[5.08,4.88],[5.14,4.90],[5.20,4.87],[5.26,4.89],[5.32,4.86],[5.38,4.89],[5.44,4.87],[5.50,4.90],[5.56,4.87],[5.62,4.89],[5.06,4.78],[5.12,4.76],[5.18,4.79],[5.24,4.77],[5.30,4.80],[5.36,4.77],[5.42,4.79],[5.48,4.76],[5.54,4.78],[5.60,4.75],[5.04,4.68],[5.10,4.70],[5.16,4.67],[5.22,4.69],[5.28,4.66],[5.34,4.69],[5.40,4.67],[5.46,4.70],[5.52,4.67],[5.58,4.69],[5.64,4.66],[5.06,4.58],[5.12,4.56],[5.18,4.59],[5.24,4.57],[5.30,4.60],[5.36,4.57],[5.42,4.59],[5.48,4.56],[5.54,4.58],[5.60,4.55],[5.05,4.48],[5.11,4.50],[5.17,4.47],[5.23,4.49],[5.29,4.46],[5.35,4.49],[5.41,4.47],[5.47,4.50],[5.53,4.47],[5.59,4.49],[5.08,4.38],[5.14,4.36],[5.20,4.39],[5.26,4.37],[5.32,4.40],[5.38,4.37],[5.44,4.39],[5.50,4.36],[5.56,4.38],[5.10,4.28],[5.16,4.30],[5.22,4.27],[5.28,4.29],[5.34,4.26],[5.40,4.29],[5.46,4.27],[5.52,4.30],[5.14,4.18],[5.20,4.16],[5.26,4.19],[5.32,4.17],[5.38,4.20],[5.44,4.17],[5.50,4.19],[5.20,4.08],[5.26,4.10],[5.32,4.07],[5.38,4.09],[5.44,4.06],[5.26,3.98],[5.32,3.96],[5.38,3.99],
  [5.26,5.03],[5.38,5.04],[5.50,5.02],[5.17,4.93],[5.29,4.94],[5.41,4.92],[5.53,4.93],[5.15,4.83],[5.27,4.84],[5.39,4.82],[5.51,4.83],[5.13,4.73],[5.25,4.74],[5.37,4.72],[5.49,4.73],[5.61,4.74],[5.15,4.63],[5.27,4.64],[5.39,4.62],[5.51,4.63],[5.14,4.53],[5.26,4.54],[5.38,4.52],[5.50,4.53],[5.17,4.43],[5.29,4.44],[5.41,4.42],[5.53,4.43],[5.19,4.33],[5.31,4.34],[5.43,4.32],[5.23,4.23],[5.35,4.24],[5.47,4.22],[5.29,4.13],[5.41,4.14],
];
const cloud9: [number, number][] = [
  [5.69,5.64],[5.53,5.52],[5.42,5.46],[5.64,5.51],[5.77,5.53],[5.82,5.46],[5.67,5.39],[5.72,5.46],[5.61,5.31],[5.98,5.27],[5.89,5.31],[5.84,5.32],[5.78,5.28],[5.91,5.23],[5.45,5.21],[5.49,5.18],[5.51,5.15],[5.62,5.16],[5.28,5.08],[5.32,5.06],[5.36,5.04],[5.40,5.03],[5.99,5.03],[6.03,5.05],[6.10,5.01],[6.11,4.93],[6.00,4.95],[6.00,4.80],[6.00,4.70],[6.05,4.60],[6.11,4.51],[5.93,4.62],[5.93,4.44],[5.89,4.50],[6.06,4.27],[6.01,4.21],[5.92,3.87],[5.86,3.95],[5.82,3.88],[5.78,3.88],[5.82,4.06],[5.74,4.18],[5.73,3.75],[5.67,3.71],[5.61,3.45],[5.53,3.62],[5.51,3.52],[5.53,3.70],[5.43,3.74],[5.36,3.78],[5.32,3.67],[5.35,3.58],[5.29,3.56],[5.24,3.57],[5.14,3.55],[5.12,3.65],[5.20,3.81],[5.20,3.96],[5.14,3.99],[5.17,4.04],[5.19,4.18],[5.19,4.35],[5.19,4.54],[5.13,4.54],[5.07,4.47],[5.24,4.60],[5.20,4.82],[5.24,4.85],[5.29,4.85],[5.26,3.88],[5.32,3.89],
  [5.50,5.02],[5.56,5.04],[5.62,5.01],[5.68,5.03],[5.40,4.93],[5.46,4.95],[5.52,4.92],[5.58,4.94],[5.64,4.91],[5.70,4.94],[5.76,4.92],[5.82,4.95],[5.36,4.84],[5.42,4.82],[5.48,4.85],[5.54,4.83],[5.60,4.86],[5.66,4.83],[5.72,4.85],[5.78,4.82],[5.84,4.84],[5.33,4.75],[5.39,4.77],[5.45,4.74],[5.51,4.76],[5.57,4.73],[5.63,4.76],[5.69,4.74],[5.75,4.77],[5.81,4.74],[5.87,4.76],[5.31,4.66],[5.37,4.64],[5.43,4.67],[5.49,4.65],[5.55,4.68],[5.61,4.65],[5.67,4.67],[5.73,4.64],[5.79,4.66],[5.85,4.63],[5.32,4.57],[5.38,4.59],[5.44,4.56],[5.50,4.58],[5.56,4.55],[5.62,4.58],[5.68,4.56],[5.74,4.59],[5.80,4.56],[5.86,4.58],[5.30,4.48],[5.36,4.46],[5.42,4.49],[5.48,4.47],[5.54,4.50],[5.60,4.47],[5.66,4.49],[5.72,4.46],[5.78,4.48],[5.84,4.45],[5.31,4.39],[5.37,4.41],[5.43,4.38],[5.49,4.40],[5.55,4.37],[5.61,4.40],[5.67,4.38],[5.73,4.41],[5.79,4.38],[5.85,4.40],[5.33,4.30],[5.39,4.28],[5.45,4.31],[5.51,4.29],[5.57,4.32],[5.63,4.29],[5.69,4.31],[5.75,4.28],[5.81,4.30],[5.32,4.21],[5.38,4.23],[5.44,4.20],[5.50,4.22],[5.56,4.19],[5.62,4.22],[5.68,4.20],[5.74,4.23],[5.35,4.12],[5.41,4.10],[5.47,4.13],[5.53,4.11],[5.59,4.14],[5.65,4.11],[5.71,4.13],[5.38,4.03],[5.44,4.05],[5.50,4.02],[5.56,4.04],[5.62,4.01],[5.68,4.04],[5.42,3.94],[5.48,3.92],[5.54,3.95],[5.60,3.93],[5.66,3.96],[5.47,3.85],[5.53,3.87],[5.59,3.84],
  [5.45,4.88],[5.57,4.89],[5.69,4.87],[5.42,4.79],[5.54,4.80],[5.66,4.78],[5.78,4.79],[5.40,4.70],[5.52,4.71],[5.64,4.69],[5.76,4.70],[5.41,4.61],[5.53,4.62],[5.65,4.60],[5.77,4.61],[5.39,4.52],[5.51,4.53],[5.63,4.51],[5.75,4.52],[5.40,4.43],[5.52,4.44],[5.64,4.42],[5.76,4.43],[5.42,4.34],[5.54,4.35],[5.66,4.33],[5.78,4.34],[5.41,4.25],[5.53,4.26],[5.65,4.24],[5.44,4.16],[5.56,4.17],[5.68,4.15],[5.47,4.07],[5.59,4.08],
];
const cloud10: [number, number][] = [
  [5.87,5.47],[5.96,5.40],[5.76,5.25],[6.33,5.26],[5.50,5.10],[5.68,5.10],[5.83,5.11],[5.88,5.13],[6.07,5.06],[6.17,4.97],[6.18,4.88],[6.10,4.90],[5.45,4.77],[5.59,4.69],[6.43,4.65],[6.24,4.57],[6.19,4.43],[6.18,4.27],[6.21,4.08],[6.33,4.08],[5.30,4.36],[5.36,4.20],[5.41,4.27],[5.46,4.23],[5.35,3.97],[5.43,3.99],[5.34,3.61],[5.48,3.57],[5.47,3.43],[5.52,3.39],[5.51,3.19],[5.59,3.44],[5.70,3.41],[5.78,3.14],[5.84,3.33],[5.83,3.48],[5.88,3.48],[5.92,3.50],[5.98,3.52],[6.06,3.69],[6.08,3.80],[6.03,3.83],[5.95,3.90],[5.84,3.61],[5.64,3.57],[5.56,3.61],[6.16,4.30],[6.12,4.55],
  [5.75,4.95],[5.81,4.97],[5.87,4.94],[5.93,4.96],[5.66,4.86],[5.72,4.84],[5.78,4.87],[5.84,4.85],[5.90,4.88],[5.96,4.85],[6.02,4.87],[5.60,4.76],[5.66,4.78],[5.72,4.75],[5.78,4.77],[5.84,4.74],[5.90,4.77],[5.96,4.75],[6.02,4.78],[6.08,4.75],[5.56,4.67],[5.62,4.65],[5.68,4.68],[5.74,4.66],[5.80,4.69],[5.86,4.66],[5.92,4.68],[5.98,4.65],[6.04,4.67],[6.10,4.64],[5.54,4.57],[5.60,4.59],[5.66,4.56],[5.72,4.58],[5.78,4.55],[5.84,4.58],[5.90,4.56],[5.96,4.59],[6.02,4.56],[6.08,4.58],[5.52,4.48],[5.58,4.46],[5.64,4.49],[5.70,4.47],[5.76,4.50],[5.82,4.47],[5.88,4.49],[5.94,4.46],[6.00,4.48],[6.06,4.45],[6.12,4.48],[5.50,4.38],[5.56,4.40],[5.62,4.37],[5.68,4.39],[5.74,4.36],[5.80,4.39],[5.86,4.37],[5.92,4.40],[5.98,4.37],[6.04,4.39],[6.10,4.36],[5.53,4.29],[5.59,4.27],[5.65,4.30],[5.71,4.28],[5.77,4.31],[5.83,4.28],[5.89,4.30],[5.95,4.27],[6.01,4.29],[6.07,4.26],[5.51,4.19],[5.57,4.21],[5.63,4.18],[5.69,4.20],[5.75,4.17],[5.81,4.20],[5.87,4.18],[5.93,4.21],[5.99,4.18],[6.05,4.20],[5.54,4.10],[5.60,4.08],[5.66,4.11],[5.72,4.09],[5.78,4.12],[5.84,4.09],[5.90,4.11],[5.96,4.08],[6.02,4.10],[5.56,4.00],[5.62,4.02],[5.68,3.99],[5.74,4.01],[5.80,3.98],[5.86,4.01],[5.92,3.99],[5.98,4.02],[5.59,3.91],[5.65,3.89],[5.71,3.92],[5.77,3.90],[5.83,3.93],[5.89,3.90],[5.95,3.92],[5.62,3.81],[5.68,3.83],[5.74,3.80],[5.80,3.82],[5.86,3.79],[5.92,3.82],[5.68,3.72],[5.74,3.70],[5.80,3.73],[5.86,3.71],
  [5.69,4.72],[5.81,4.73],[5.93,4.71],[5.65,4.62],[5.77,4.63],[5.89,4.61],[6.01,4.62],[5.63,4.53],[5.75,4.54],[5.87,4.52],[5.99,4.53],[5.61,4.43],[5.73,4.44],[5.85,4.42],[5.97,4.43],[6.09,4.44],[5.65,4.34],[5.77,4.35],[5.89,4.33],[6.01,4.34],[5.62,4.24],[5.74,4.25],[5.86,4.23],[5.98,4.24],[5.63,4.15],[5.75,4.16],[5.87,4.14],[5.99,4.15],[5.65,4.05],[5.77,4.06],[5.89,4.04],[5.68,3.96],[5.80,3.97],[5.92,3.95],[5.71,3.86],[5.83,3.87],
];
const cloud11: [number, number][] = [
  [6.30,5.08],[6.18,5.08],[6.12,5.04],[6.18,4.98],[6.12,4.95],[6.00,4.95],[6.03,4.81],[6.02,4.78],[6.10,4.81],[6.16,4.84],[6.09,4.75],[6.20,4.74],[6.32,4.72],[5.94,4.75],[5.90,4.67],[5.87,4.59],[5.78,4.47],[5.51,4.30],[5.61,4.17],[5.71,4.23],[5.73,4.12],[5.67,3.98],[5.69,3.96],[5.64,3.81],[5.54,3.72],[5.54,3.60],[5.62,3.65],[5.69,3.78],[5.71,3.59],[5.68,3.44],[5.68,3.34],[5.71,3.26],[5.78,3.44],[5.84,3.41],[5.87,3.32],[5.88,3.18],[5.90,3.21],[5.95,3.13],[5.96,3.33],[6.03,3.12],[6.04,3.29],[6.05,3.27],[6.09,3.39],[6.11,3.21],[6.14,3.12],[6.21,3.03],[6.13,3.42],[6.20,3.46],[6.26,3.44],[6.37,3.39],[6.30,3.61],[6.32,3.72],[6.36,3.87],[6.23,3.69],[6.31,4.05],[6.38,4.14],[6.41,4.22],[6.46,4.27],[6.42,4.38],[6.44,4.50],[6.37,4.62],[6.32,4.55],[6.53,4.16],[6.65,4.38],[6.40,4.59],
  [6.02,4.62],[6.08,4.64],[6.14,4.61],[6.20,4.63],[5.93,4.53],[5.98,4.55],[6.04,4.52],[6.10,4.54],[6.16,4.51],[6.22,4.54],[6.28,4.52],[5.88,4.45],[5.93,4.43],[5.99,4.46],[6.05,4.44],[6.11,4.47],[6.17,4.44],[6.23,4.46],[6.29,4.43],[5.84,4.36],[5.89,4.38],[5.95,4.35],[6.01,4.37],[6.07,4.34],[6.13,4.37],[6.19,4.35],[6.25,4.38],[6.31,4.35],[5.82,4.28],[5.87,4.26],[5.93,4.29],[5.99,4.27],[6.05,4.30],[6.11,4.27],[6.17,4.29],[6.23,4.26],[6.29,4.28],[5.80,4.19],[5.85,4.21],[5.91,4.18],[5.97,4.20],[6.03,4.17],[6.09,4.20],[6.15,4.18],[6.21,4.21],[6.27,4.18],[6.33,4.20],[5.82,4.11],[5.87,4.09],[5.93,4.12],[5.99,4.10],[6.05,4.13],[6.11,4.10],[6.17,4.12],[6.23,4.09],[6.29,4.11],[5.80,4.02],[5.85,4.04],[5.91,4.01],[5.97,4.03],[6.03,4.00],[6.09,4.03],[6.15,4.01],[6.21,4.04],[6.27,4.01],[5.82,3.94],[5.87,3.92],[5.93,3.95],[5.99,3.93],[6.05,3.96],[6.11,3.93],[6.17,3.95],[6.23,3.92],[5.80,3.85],[5.85,3.87],[5.91,3.84],[5.97,3.86],[6.03,3.83],[6.09,3.86],[6.15,3.84],[6.21,3.87],[5.83,3.77],[5.88,3.75],[5.94,3.78],[6.00,3.76],[6.06,3.79],[6.12,3.76],[6.18,3.78],[5.85,3.68],[5.90,3.70],[5.96,3.67],[6.02,3.69],[6.08,3.66],[6.14,3.69],[5.88,3.60],[5.93,3.58],[5.99,3.61],[6.05,3.59],[6.11,3.62],[5.92,3.51],[5.98,3.53],[6.04,3.50],
  [5.96,4.49],[6.08,4.50],[6.20,4.48],[5.92,4.40],[6.04,4.41],[6.16,4.39],[6.28,4.40],[5.90,4.32],[6.02,4.33],[6.14,4.31],[6.26,4.32],[5.88,4.24],[6.00,4.25],[6.12,4.23],[6.24,4.24],[5.88,4.15],[6.00,4.16],[6.12,4.14],[6.24,4.15],[5.90,4.07],[6.02,4.08],[6.14,4.06],[6.26,4.07],[5.88,3.98],[6.00,3.99],[6.12,3.97],[5.90,3.90],[6.02,3.91],[6.14,3.89],[5.88,3.81],[6.00,3.82],[6.12,3.80],[5.91,3.72],[6.03,3.73],
];
const cloud12: [number, number][] = [
  [6.21,4.76],[6.32,4.78],[6.35,4.79],[6.26,4.69],[6.47,4.73],[6.67,4.68],[6.55,4.65],[6.48,4.61],[6.11,4.58],[6.13,4.60],[6.16,4.60],[6.19,4.60],[6.25,4.54],[6.27,4.49],[6.38,4.55],[6.47,4.51],[6.43,4.45],[6.40,4.50],[6.50,4.47],[6.56,4.45],[6.59,4.49],[6.61,4.40],[6.57,4.33],[6.65,4.32],[6.72,4.34],[6.18,4.47],[6.07,4.39],[6.07,4.26],[6.02,4.20],[6.01,4.16],[5.91,3.97],[5.82,3.79],[5.83,3.51],[5.87,3.56],[5.91,3.53],[5.91,3.34],[5.95,3.23],[5.97,3.19],[5.76,3.00],[5.80,3.05],[5.86,2.97],[6.01,2.88],[6.05,2.86],[6.03,2.46],[6.16,3.03],[6.06,3.16],[6.09,3.12],[6.21,2.71],[6.25,2.76],[6.30,2.71],[6.24,3.10],[6.31,3.11],[6.38,3.14],[6.45,3.34],[6.47,3.33],[6.45,3.49],[6.49,3.44],[6.52,3.46],[6.55,3.54],[6.60,3.63],[6.61,3.86],[6.61,3.79],[6.66,3.83],[6.69,3.92],[6.54,3.88],[6.52,4.03],[6.56,4.10],[6.58,4.07],[6.51,3.93],[6.52,3.68],[6.45,3.82],[6.43,4.10],[6.47,4.30],[6.41,4.22],[6.37,4.39],[5.97,3.88],[6.00,3.72],[6.02,3.60],[5.95,3.62],[6.04,3.38],[6.08,3.30],[6.12,3.25],[6.00,3.48],
  [6.20,4.22],[6.25,4.24],[6.30,4.21],[6.35,4.23],[6.12,4.13],[6.17,4.15],[6.22,4.12],[6.27,4.14],[6.32,4.11],[6.37,4.14],[6.42,4.12],[6.08,4.05],[6.13,4.03],[6.18,4.06],[6.23,4.04],[6.28,4.07],[6.33,4.04],[6.38,4.06],[6.43,4.03],[6.06,3.96],[6.11,3.98],[6.16,3.95],[6.21,3.97],[6.26,3.94],[6.31,3.97],[6.36,3.95],[6.41,3.98],[6.46,3.95],[6.08,3.88],[6.13,3.86],[6.18,3.89],[6.23,3.87],[6.28,3.90],[6.33,3.87],[6.38,3.89],[6.43,3.86],[6.06,3.79],[6.11,3.81],[6.16,3.78],[6.21,3.80],[6.26,3.77],[6.31,3.80],[6.36,3.78],[6.41,3.81],[6.46,3.78],[6.09,3.71],[6.14,3.69],[6.19,3.72],[6.24,3.70],[6.29,3.73],[6.34,3.70],[6.39,3.72],[6.44,3.69],[6.11,3.62],[6.16,3.64],[6.21,3.61],[6.26,3.63],[6.31,3.60],[6.36,3.63],[6.41,3.61],[6.13,3.54],[6.18,3.52],[6.23,3.55],[6.28,3.53],[6.33,3.56],[6.38,3.53],[6.16,3.45],[6.21,3.47],[6.26,3.44],[6.31,3.46],[6.36,3.43],[6.20,3.37],[6.25,3.35],[6.30,3.38],
];

const clouds = [cloud1, cloud2, cloud3, cloud4, cloud5, cloud6, cloud7, cloud8, cloud9, cloud10, cloud11, cloud12];

// page geometry of the panel boxes
const colLeft = [98, 357, 616, 875];
const colRight = [304, 563, 822, 1082];
const rowTop = [43, 379, 717];
const rowBottom = [295, 632, 968];
const STRIP = 32;
const PAD_L = 62;
const PAD_R = 6;
const PAD_T = STRIP + 4;
const PAD_B = 52;

const BLUE = '#0080ff';
const FONT = '"Liberation Sans", Arial, Helvetica, sans-serif';

function framePlugin(i: number) {
  return {
    id: 'latticeFrame' + i,
    afterDraw(chart: any) {
      const ctx = chart.ctx;
      const a = chart.chartArea;
      const w = a.right - a.left;
      const xs = chart.scales.x;
      const ys = chart.scales.y;
      ctx.save();
      // strip
      ctx.fillStyle = '#ffe5cc';
      ctx.fillRect(a.left, a.top - STRIP, w, STRIP);
      ctx.strokeStyle = '#000';
      ctx.lineWidth = 1.8;
      ctx.strokeRect(a.left, a.top - STRIP, w, STRIP);
      ctx.fillStyle = '#000';
      ctx.font = '26px ' + FONT;
      ctx.textAlign = 'center';
      ctx.textBaseline = 'middle';
      ctx.fillText(stripLabels[i], a.left + w / 2, a.top - STRIP / 2 + 1);
      // panel box
      ctx.strokeRect(a.left, a.top, w, a.bottom - a.top);
      // x ticks
      ctx.font = '21px ' + FONT;
      hrtTicks[i].forEach((v) => {
        const px = xs.getPixelForValue(v);
        ctx.beginPath();
        ctx.moveTo(px, a.bottom);
        ctx.lineTo(px, a.bottom + 13);
        ctx.stroke();
        if (!hrtBare[i].includes(v)) ctx.fillText(v.toFixed(1), px, a.bottom + 33);
      });
      // y ticks, labels turned like R does
      cvTicks[i].forEach((v) => {
        const py = ys.getPixelForValue(v);
        ctx.beginPath();
        ctx.moveTo(a.left - 13, py);
        ctx.lineTo(a.left, py);
        ctx.stroke();
        if (!cvBare[i].includes(v)) {
          ctx.save();
          ctx.translate(a.left - 32, py);
          ctx.rotate(-Math.PI / 2);
          ctx.fillText(v.toFixed(1), 0, 0);
          ctx.restore();
        }
      });
      ctx.restore();
    },
  };
}

const Panel: React.FC<{ index: number }> = ({ index }) => {
  const chartRef = useRef<HTMLCanvasElement>(null);
  const col = index % 4;
  const row = Math.floor(index / 4);
  const left = colLeft[col];
  const top = rowTop[row];
  const width = colRight[col] - left;
  const height = rowBottom[row] - top;

  useEffect(() => {
    if (!chartRef.current) return;
    const [xMin, xMax] = hrtLimits[index];
    const [yMin, yMax] = cvLimits[index];
    const chart = new Chart(chartRef.current, {
      type: 'scatter',
      data: {
        datasets: [
          {
            data: clouds[index].map(([x, y]) => ({ x, y })),
            pointRadius: 5.3,
            pointBorderWidth: 2,
            borderColor: BLUE,
            backgroundColor: 'rgba(0,0,0,0)',
            clip: 0,
            order: 2,
          },
          {
            type: 'line',
            data: [{ x: xMin, y: fitLeft[index] }, { x: xMax, y: fitRight[index] }],
            showLine: true,
            borderColor: BLUE,
            borderWidth: 1.6,
            pointRadius: 0,
            clip: 0,
            order: 1,
          } as any,
        ],
      },
      options: {
        animation: false,
        responsive: true,
        maintainAspectRatio: false,
        events: [],
        layout: { padding: { left: PAD_L, right: PAD_R, top: PAD_T, bottom: PAD_B } },
        plugins: { legend: { display: false }, tooltip: { enabled: false } },
        scales: {
          x: { type: 'linear', min: xMin, max: xMax, display: false },
          y: { type: 'linear', min: yMin, max: yMax, display: false },
        },
      },
      plugins: [framePlugin(index)],
    });
    return () => {
      chart.destroy();
    };
  }, [index]);

  return (
    <div
      style={{
        position: 'absolute',
        left: left - PAD_L,
        top: top - PAD_T,
        width: width + PAD_L + PAD_R,
        height: height + PAD_T + PAD_B,
      }}
    >
      <canvas ref={chartRef} />
    </div>
  );
};

const App: React.FC = () => {
  return (
    <div style={{ position: 'absolute', left: 0, top: 0, width: 1088, height: 1061, background: '#fff', fontFamily: FONT }}>
      {clouds.map((_, i) => (
        <Panel key={i} index={i} />
      ))}
      <div
        style={{
          position: 'absolute',
          left: 31,
          top: 490,
          transform: 'translate(-50%, -50%) rotate(-90deg)',
          fontSize: 25,
          whiteSpace: 'nowrap',
          color: '#000',
        }}
      >
        CVriziko
      </div>
      <div
        style={{
          position: 'absolute',
          left: 590,
          top: 1043,
          transform: 'translate(-50%, -50%)',
          fontSize: 25,
          color: '#000',
        }}
      >
        HRT
      </div>
    </div>
  );
};

export default App;
